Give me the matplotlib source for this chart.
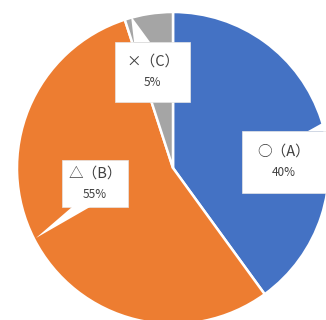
import numpy as np
import matplotlib
matplotlib.use('Agg')
import matplotlib.pyplot as plt
from matplotlib.patches import Polygon

plt.rcParams['font.family'] = ['Noto Sans CJK JP', 'DejaVu Sans']

labels = ['○（A）', '△（B）', '×（C）']
values = [40, 55, 5]
colors = ['#4472C4', '#ED7D31', '#A5A5A5']

W, H = 326, 320
fig = plt.figure(figsize=(W / 100, H / 100), dpi=100)
ax = fig.add_axes([0, 0, 1, 1])

cx, cy, r = 173, H - 168, 156
wedges, _ = ax.pie(values, colors=colors, startangle=90, counterclock=False,
                   center=(cx, cy), radius=r, frame=True,
                   wedgeprops=dict(edgecolor='white', linewidth=1.8))
ax.set_xlim(0, W)
ax.set_ylim(0, H)
ax.set_aspect('equal')
ax.axis('off')

# callout boxes in pixel coords (left, top, right, bottom), tail base and tip
boxes = [
    dict(box=(242, 131, 330, 193), base=(308, 326), tip=(326, 121)),
    dict(box=(62, 160, 128, 207), base=(72, 90), tip=(36, 238)),
    dict(box=(115, 42, 190, 102), base=(134, 150), tip=(131, 16)),
]

def px(x, y):
    return (x, H - y)

for lab, val, b in zip(labels, values, boxes):
    l, t, rr, bt = b['box']
    ax.add_patch(Polygon([px(l, t), px(rr, t), px(rr, bt), px(l, bt)], closed=True,
                         facecolor='white', edgecolor='#e6e6e6', linewidth=0.5, zorder=5))
    bx0, bx1 = b['base']
    edge_y = t if b['tip'][1] < t else bt
    ax.add_patch(Polygon([px(bx0, edge_y), px(bx1, edge_y), px(*b['tip'])], closed=True,
                         facecolor='white', edgecolor='none', zorder=6))
    mx = (l + min(rr, W)) / 2
    my = (t + bt) / 2
    ax.text(*px(mx, my - 10), lab, ha='center', va='center', fontsize=10.5,
            color='#404040', zorder=7)
    ax.text(*px(mx, my + 11), f'{val}%', ha='center', va='center', fontsize=8.5,
            color='#404040', zorder=7)

fig.savefig('out.png', dpi=100)
